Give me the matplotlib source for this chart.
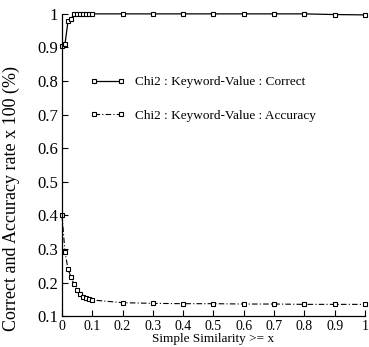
import numpy as np
import matplotlib
matplotlib.use("Agg")
import matplotlib.pyplot as plt

plt.rcParams['font.family'] = ['Liberation Serif', 'DejaVu Serif']

# data
sim_x = [0.0, 0.01, 0.02, 0.03, 0.04, 0.05, 0.06, 0.07, 0.08, 0.09, 0.1,
         0.2, 0.3, 0.4, 0.5, 0.6, 0.7, 0.8, 0.9, 1.0]
correct = [0.905, 0.91, 0.98, 0.985, 1.0, 1.0, 1.0, 1.0, 1.0, 1.0, 1.0,
           1.0, 1.0, 1.0, 1.0, 1.0, 1.0, 1.0, 0.998, 0.997]
accuracy = [0.40, 0.29, 0.24, 0.215, 0.195, 0.178, 0.167, 0.158, 0.154, 0.150, 0.148,
            0.140, 0.138, 0.137, 0.137, 0.136, 0.136, 0.135, 0.135, 0.135]

xticks = [0, 0.1, 0.2, 0.3, 0.4, 0.5, 0.6, 0.7, 0.8, 0.9, 1]
xtick_labels = ['0', '0.1', '0.2', '0.3', '0.4', '0.5', '0.6', '0.7', '0.8', '0.9', '1']
yticks = [0.1, 0.2, 0.3, 0.4, 0.5, 0.6, 0.7, 0.8, 0.9, 1]
ytick_labels = ['0.1', '0.2', '0.3', '0.4', '0.5', '0.6', '0.7', '0.8', '0.9', '1']

fig = plt.figure(figsize=(3.69, 3.47), dpi=100)
ax = fig.add_axes([0.168, 0.089, 0.821, 0.871])

ax.plot(sim_x, correct, color='black', linewidth=0.9, marker='s', markersize=3,
        markerfacecolor='white', markeredgewidth=0.8, clip_on=False,
        label='Chi2 : Keyword-Value : Correct')
ax.plot(sim_x, accuracy, color='black', linewidth=0.8, linestyle=(0, (5, 2, 1, 2)),
        marker='s', markersize=3, markerfacecolor='white', markeredgewidth=0.8,
        clip_on=False, label='Chi2 : Keyword-Value : Accuracy')

ax.set_xlim(0, 1)
ax.set_ylim(0.1, 1)
ax.set_xticks(xticks)
ax.set_xticklabels(xtick_labels, fontsize=10)
ax.set_yticks(yticks)
ax.set_yticklabels(ytick_labels, fontsize=12)
ax.tick_params(direction='in', length=4, width=0.8, pad=3)
ax.tick_params(axis='x', pad=3)

for side in ['top', 'right']:
    ax.spines[side].set_visible(False)
for side in ['left', 'bottom']:
    ax.spines[side].set_linewidth(0.9)

ax.set_xlabel('Simple Similarity >= x', fontsize=9.5, labelpad=0)
ax.set_ylabel('Correct and Accuracy rate x 100 (%)', fontsize=13)
ax.yaxis.set_label_coords(-0.14, 0.39)

ax.legend(loc='upper left', bbox_to_anchor=(0.055, 0.833), frameon=False,
          fontsize=9.5, numpoints=2, handlelength=2.6, handletextpad=0.75,
          labelspacing=1.6)

fig.savefig('out.png', dpi=100)
